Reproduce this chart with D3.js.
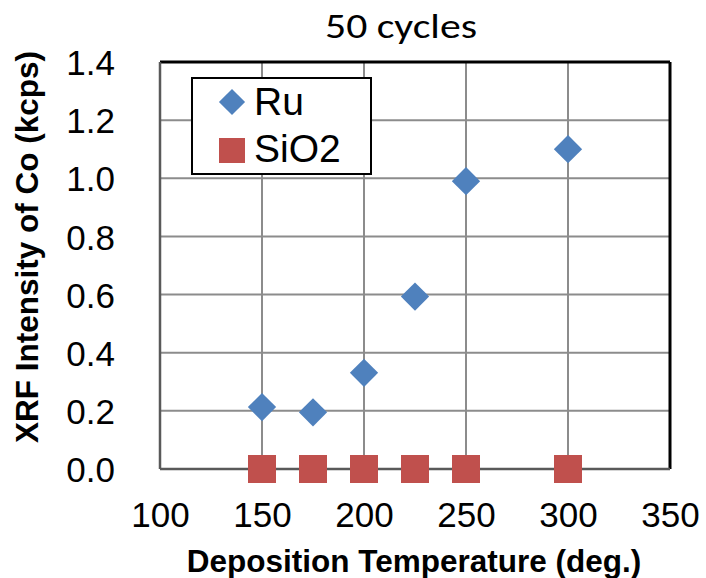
<!DOCTYPE html>
<html lang="en">
<head>
    <meta charset="UTF-8">
    <title>50 cycles</title>
    <script src="https://d3js.org/d3.v7.min.js"></script>
    <style>
        body {
            margin: 0;
            background-color: white;
            font-family: "Liberation Sans", Arial, sans-serif;
        }
    </style>
</head>
<body>
    <div id="chart"></div>
    <script>
        // Data
        var temps = [150, 175, 200, 225, 250, 300];
        var ruValues = [0.213, 0.195, 0.331, 0.593, 0.99, 1.10];
        var sio2Values = [0, 0, 0, 0, 0, 0];
        var xTicks = [100, 150, 200, 250, 300, 350];
        var yTicks = [0, 0.2, 0.4, 0.6, 0.8, 1.0, 1.2, 1.4];

        var margin = {top: 62, right: 36, bottom: 109, left: 160},
            width = 706 - margin.left - margin.right,
            height = 578 - margin.top - margin.bottom;

        var svg = d3.select("#chart")
            .append("svg")
            .attr("width", 706)
            .attr("height", 578)
            .append("g")
            .attr("transform", `translate(${margin.left},${margin.top})`);

        var x = d3.scaleLinear().domain([100, 350]).range([0, width]);
        var y = d3.scaleLinear().domain([0, 1.4]).range([height, 0]);

        // Grid lines
        svg.append("g")
            .selectAll("line")
            .data(xTicks.slice(1, -1))
            .enter().append("line")
            .attr("x1", function (d) {return x(d);})
            .attr("x2", function (d) {return x(d);})
            .attr("y1", 0)
            .attr("y2", height)
            .attr("stroke", "#8c8c8c")
            .attr("stroke-width", 2);

        svg.append("g")
            .selectAll("line")
            .data(yTicks.slice(1, -1))
            .enter().append("line")
            .attr("x1", 0)
            .attr("x2", width)
            .attr("y1", function (d) {return y(d);})
            .attr("y2", function (d) {return y(d);})
            .attr("stroke", "#8c8c8c")
            .attr("stroke-width", 2);

        // Plot frame: top/right black, left/bottom gray
        svg.append("line").attr("x1", 0).attr("x2", width).attr("y1", 0).attr("y2", 0)
            .attr("stroke", "#000").attr("stroke-width", 3);
        svg.append("line").attr("x1", width).attr("x2", width).attr("y1", 0).attr("y2", height)
            .attr("stroke", "#000").attr("stroke-width", 3);
        svg.append("line").attr("x1", 0).attr("x2", 0).attr("y1", 0).attr("y2", height)
            .attr("stroke", "#595959").attr("stroke-width", 2.5);
        svg.append("line").attr("x1", 0).attr("x2", width).attr("y1", height).attr("y2", height)
            .attr("stroke", "#595959").attr("stroke-width", 2.5);

        // Axes (labels only)
        var xAxis = svg.append("g")
            .attr("transform", `translate(0,${height})`)
            .call(d3.axisBottom(x).tickValues(xTicks).tickSize(0).tickPadding(33).tickFormat(d3.format("d")));
        var yAxis = svg.append("g")
            .call(d3.axisLeft(y).tickValues(yTicks).tickSize(0).tickPadding(45).tickFormat(d3.format(".1f")));
        [xAxis, yAxis].forEach(function (a) {
            a.select(".domain").remove();
            a.selectAll("text")
                .attr("font-family", "Liberation Sans, Arial, sans-serif")
                .attr("font-size", 35)
                .attr("fill", "#000");
        });
        yAxis.selectAll("text").attr("dy", "0.36em");

        // SiO2 squares
        var sq = 28;
        svg.selectAll(".sio2")
            .data(temps)
            .enter().append("rect")
            .attr("class", "sio2")
            .attr("x", function (d) {return x(d) - sq / 2;})
            .attr("y", function (d, i) {return y(sio2Values[i]) - sq / 2;})
            .attr("width", sq)
            .attr("height", sq)
            .attr("fill", "#c0504d");

        // Ru diamonds
        var diamond = d3.symbol().type(d3.symbolSquare).size(20 * 20);
        svg.selectAll(".ru")
            .data(temps)
            .enter().append("path")
            .attr("class", "ru")
            .attr("d", diamond)
            .attr("transform", function (d, i) {
                return `translate(${x(d)},${y(ruValues[i])}) rotate(45)`;
            })
            .attr("fill", "#4f81bd");

        // Legend
        var legend = svg.append("g").attr("transform", "translate(32,16)");
        legend.append("rect")
            .attr("width", 179)
            .attr("height", 96)
            .attr("fill", "white")
            .attr("stroke", "#000")
            .attr("stroke-width", 2);
        legend.append("path")
            .attr("d", d3.symbol().type(d3.symbolSquare).size(18.5 * 18.5))
            .attr("transform", "translate(40,24) rotate(45)")
            .attr("fill", "#4f81bd");
        legend.append("rect")
            .attr("x", 27).attr("y", 60)
            .attr("width", 26).attr("height", 25)
            .attr("fill", "#c0504d");
        legend.append("text")
            .attr("x", 62).attr("y", 37)
            .attr("font-size", 39)
            .text("Ru");
        legend.append("text")
            .attr("x", 62).attr("y", 84)
            .attr("font-size", 39)
            .text("SiO2");

        // Title
        svg.append("text")
            .attr("x", 401 - margin.left)
            .attr("y", 38 - margin.top)
            .attr("text-anchor", "middle")
            .attr("font-family", "Carlito, 'Noto Sans', sans-serif")
            .attr("font-size", 35)
            .attr("textLength", 152)
            .attr("lengthAdjust", "spacingAndGlyphs")
            .text("50 cycles");

        // X Axis label
        svg.append("text")
            .attr("x", 414 - margin.left)
            .attr("y", 572 - margin.top)
            .attr("text-anchor", "middle")
            .attr("font-size", 31.5)
            .attr("font-weight", "bold")
            .text("Deposition Temperature (deg.)");

        // Y Axis label
        svg.append("text")
            .attr("transform", "rotate(-90)")
            .attr("x", -(247 - margin.top))
            .attr("y", 38 - margin.left)
            .attr("text-anchor", "middle")
            .attr("font-size", 31.5)
            .attr("font-weight", "bold")
            .text("XRF Intensity of Co (kcps)");
    </script>
</body>
</html>
